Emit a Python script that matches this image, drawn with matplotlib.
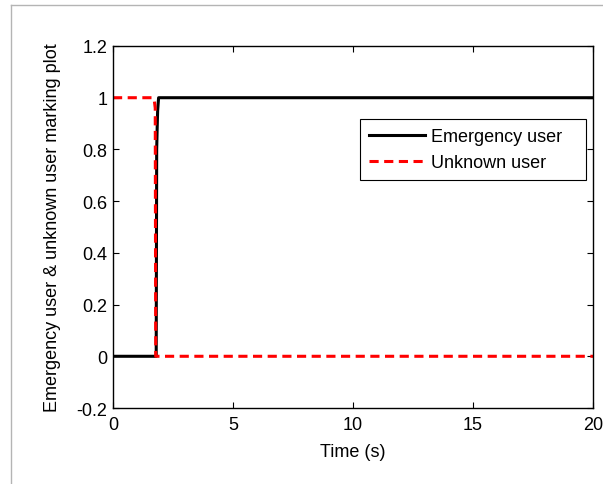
import matplotlib
matplotlib.use("Agg")
import matplotlib.pyplot as plt
from matplotlib.lines import Line2D

plt.rcParams['font.family'] = ['Liberation Sans', 'DejaVu Sans']

# Data
emergency_t = [0, 1.80, 1.82, 1.84, 1.86, 1.90, 20]
emergency_y = [0, 0, 0.80, 0.88, 0.95, 1.0, 1.0]
unknown_t = [0, 1.65, 1.72, 1.76, 1.78, 20]
unknown_y = [1, 1, 0.99, 0.96, 0.0, 0.0]

xticks = [0, 5, 10, 15, 20]
yticks = [-0.2, 0, 0.2, 0.4, 0.6, 0.8, 1.0, 1.2]
yticklabels = ['-0.2', '0', '0.2', '0.4', '0.6', '0.8', '1', '1.2']

FS = 13

fig = plt.figure(figsize=(6.03, 4.85), dpi=100)
ax = fig.add_axes([113/603, 1-409/485, (593-113)/603, (409-47)/485])

ax.plot(emergency_t, emergency_y, color='black', lw=2.2, label='Emergency user   ')
ax.plot(unknown_t, unknown_y, color='red', lw=2.2, ls=(0, (3, 1.8)), label='Unknown user')

ax.set_xlim(0, 20)
ax.set_ylim(-0.2, 1.2)
ax.set_xticks(xticks)
ax.set_xticklabels([str(v) for v in xticks])
ax.set_yticks(yticks)
ax.set_yticklabels(yticklabels)
ax.tick_params(direction='in', top=True, right=True, length=4, width=0.8,
               labelsize=FS, pad=4)
ax.tick_params(axis='x', pad=6)
for s in ax.spines.values():
    s.set_linewidth(1.0)

ax.set_xlabel('Time (s)', fontsize=FS, labelpad=7)
ax.set_ylabel('Emergency user & unknown user marking plot', fontsize=FS, labelpad=11)

leg = ax.legend(loc='upper right', bbox_to_anchor=(586/603, 1-120/485),
                bbox_transform=fig.transFigure, fontsize=FS, frameon=True,
                fancybox=False, edgecolor='black', framealpha=1,
                handlelength=3.1, borderpad=0.5, labelspacing=0.5, handletextpad=0.35,
                borderaxespad=0)
leg.get_frame().set_linewidth(0.8)

# gray outer frame
fig.add_artist(Line2D([11/603, 1.0], [1-6/485, 1-6/485], transform=fig.transFigure,
                      color='#b4b4b4', lw=1.0))
fig.add_artist(Line2D([11/603, 11/603], [0, 1-6/485], transform=fig.transFigure,
                      color='#b4b4b4', lw=1.0))

fig.savefig('out.png', dpi=100)
